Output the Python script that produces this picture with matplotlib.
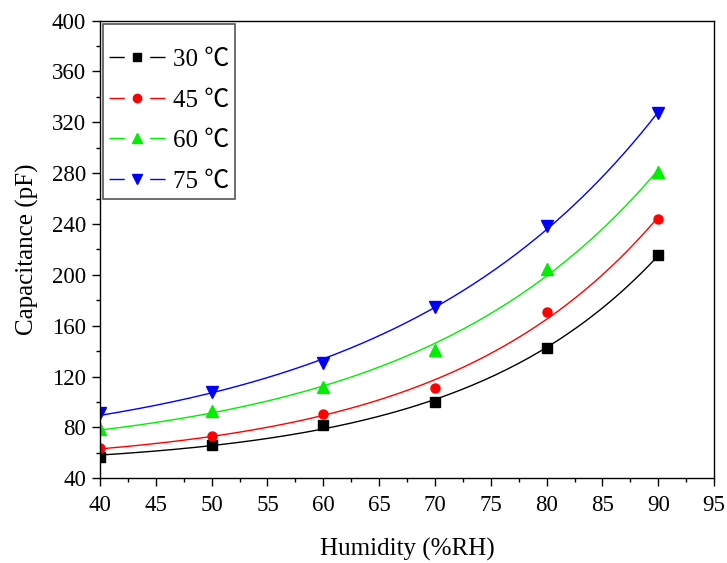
import numpy as np
import matplotlib.pyplot as plt
from matplotlib.patches import Rectangle
from matplotlib.ticker import MultipleLocator

plt.rcParams['font.family'] = ['Liberation Serif', 'Noto Sans CJK SC', 'DejaVu Serif']

# measured capacitance vs relative humidity at four temperatures
humidity = [40, 50, 60, 70, 80, 90]
cap_30 = [56.5, 66.5, 82.0, 100.0, 142.5, 215.5]
cap_45 = [63.8, 73.5, 90.5, 111.0, 171.0, 244.0]
cap_60 = [78.5, 93.0, 111.5, 141.0, 205.0, 281.0]
cap_75 = [91.0, 107.5, 130.5, 174.5, 238.5, 327.0]
labels = ['30 ℃', '45 ℃', '60 ℃', '75 ℃']
colors = ['black', 'red', '#00ee00', 'blue']
markers = ['s', 'o', '^', 'v']
msizes = [6.5, 6.5, 8.0, 8.0]


def exp_fit(x, y):
    """Least-squares fit of y = a + b*exp(x/t), scanning t."""
    x = np.asarray(x, float)
    y = np.asarray(y, float)
    best = None
    for t in np.linspace(5, 80, 751):
        A = np.column_stack([np.ones_like(x), np.exp(x / t)])
        coef, *_ = np.linalg.lstsq(A, y, rcond=None)
        err = np.sum((A @ coef - y) ** 2)
        if best is None or err < best[0]:
            best = (err, coef, t)
    _, (a, b), t = best
    return lambda xx: a + b * np.exp(xx / t)


fig = plt.figure(figsize=(7.27, 5.63), dpi=100)
ax = fig.add_axes([0.1376, 0.1504, 0.8446, 0.8131])

xs = np.linspace(40, 90, 200)
for y, lab, c, m, ms in zip([cap_30, cap_45, cap_60, cap_75], labels, colors, markers, msizes):
    f = exp_fit(humidity, y)
    ax.plot(xs, f(xs), color=c, lw=1.0)
    ax.plot(humidity, y, linestyle='none', marker=m, color=c, ms=ms)
    # legend entry: short line, gap, marker, gap, short line
    ax.plot([], [], color=c, lw=1.0, marker=m, ms=ms - 0.5,
            linestyle=(0, (11, 18.3, 11)), label=lab)

ax.set_xlim(40, 95)
ax.set_ylim(40, 400)
ax.xaxis.set_major_locator(MultipleLocator(5))
ax.xaxis.set_minor_locator(MultipleLocator(2.5))
ax.yaxis.set_major_locator(MultipleLocator(40))
ax.yaxis.set_minor_locator(MultipleLocator(20))
ax.tick_params(which='major', direction='out', length=6, width=1.0, labelsize=16.5)
ax.tick_params(which='minor', direction='out', length=3, width=1.0)
ax.tick_params(axis='x', pad=6)
ax.tick_params(axis='y', pad=4)
for s in ax.spines.values():
    s.set_linewidth(1.0)

ax.set_xlabel('Humidity (%RH)', fontsize=18, labelpad=16)
ax.set_ylabel('Capacitance (pF)', fontsize=18, labelpad=9)

# legend box drawn separately so its padding can be set freely
ax.add_patch(Rectangle((0.0049, 0.610), 0.215, 0.3824, transform=ax.transAxes,
                       facecolor='white', edgecolor='#555555', lw=1.2, zorder=4))
leg = ax.legend(loc='upper left', bbox_to_anchor=(0.0147, 0.9385), borderaxespad=0,
                fontsize=18, handlelength=2.24, handletextpad=0.3, borderpad=0,
                labelspacing=0.72, frameon=False)
leg.set_zorder(5)

fig.savefig('out.png', dpi=100)
